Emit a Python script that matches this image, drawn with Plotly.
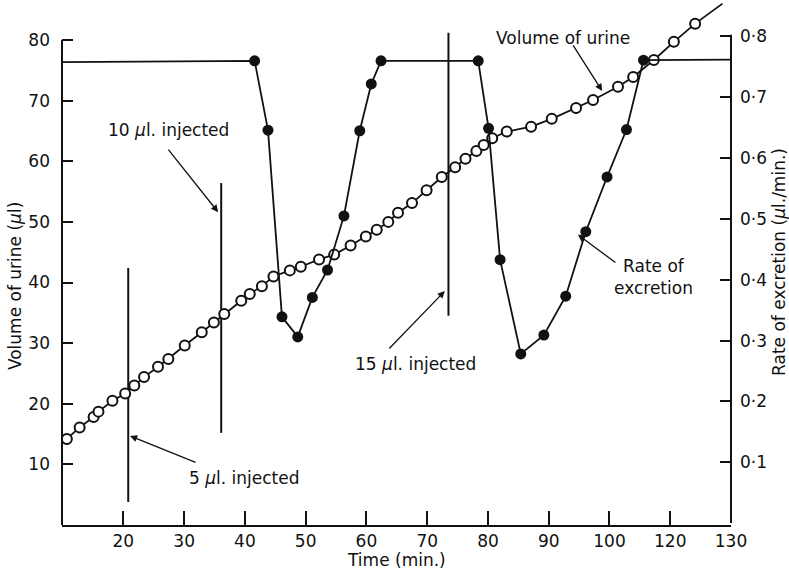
import plotly.graph_objects as go

# ---- data ----
vol_time = [10.7, 12.8, 15.1, 15.9, 18.2, 20.3, 21.8, 23.4, 25.7, 27.4, 30.1, 32.9, 34.9, 36.6,
            39.4, 40.8, 42.8, 44.7, 47.4, 49.2, 52.2, 54.7, 57.4, 59.9, 61.7, 63.6, 65.2, 67.5,
            69.9, 72.4, 74.6, 76.3, 78.1, 79.3, 80.7, 83.1, 87.1, 90.5, 94.5, 97.3, 101.4,
            103.9, 107.3, 110.6, 114.1]
vol_ul = [14.2, 16.1, 17.8, 18.7, 20.5, 21.7, 23.0, 24.4, 26.1, 27.4, 29.6, 31.8, 33.4, 34.8,
          37.0, 38.1, 39.4, 41.0, 42.0, 42.6, 43.8, 44.6, 46.1, 47.6, 48.7, 50.0, 51.5, 53.1,
          55.2, 57.4, 59.0, 60.4, 61.7, 62.7, 63.8, 64.9, 65.7, 67.0, 68.8, 70.1, 72.3,
          73.9, 76.7, 79.7, 82.7]
vol_line_end_time = [118.6]
vol_line_end_ul = [86.0]

rate_time = [41.6, 43.8, 46.1, 48.7, 51.1, 53.6, 56.3, 58.9, 60.8, 62.4, 78.4, 80.1, 82.0,
             85.4, 89.2, 92.8, 96.1, 99.6, 102.8, 105.6]
rate_val = [0.76, 0.646, 0.339, 0.306, 0.371, 0.416, 0.505, 0.645, 0.722, 0.76, 0.76, 0.649,
            0.433, 0.278, 0.309, 0.373, 0.479, 0.569, 0.647, 0.761]
rate_start_time, rate_start_val = 9.9, 0.758
rate_end_time, rate_end_val = 120.0, 0.762

inj_time = [20.8, 36.1, 73.5]
inj_bottom = [3.8, 15.2, 34.5]
inj_top = [42.4, 56.4, 81.2]

x_tickvals = [20, 30, 40, 50, 60, 70, 80, 90, 100, 110, 120]
x_ticktext = ["20", "30", "40", "50", "60", "70", "80", "90", "100", "120", "130"]
y_tickvals = [10, 20, 30, 40, 50, 60, 70, 80]
y2_tickvals = [0.1, 0.2, 0.3, 0.4, 0.5, 0.6, 0.7, 0.8]
y2_ticktext = ["0·1", "0·2", "0·3", "0·4", "0·5", "0·6", "0·7", "0·8"]

FONT = "DejaVu Sans"
INK = "#111111"

fig = go.Figure()

# injection marker lines
for t, b, tp in zip(inj_time, inj_bottom, inj_top):
    fig.add_trace(go.Scatter(x=[t, t], y=[b, tp], mode="lines",
                             line=dict(color=INK, width=2), hoverinfo="skip"))

# rate of excretion (y2)
fig.add_trace(go.Scatter(x=[rate_start_time] + rate_time + [rate_end_time],
                         y=[rate_start_val] + rate_val + [rate_end_val],
                         yaxis="y2", mode="lines", line=dict(color=INK, width=1.8)))
fig.add_trace(go.Scatter(x=rate_time, y=rate_val, yaxis="y2", mode="markers",
                         marker=dict(symbol="circle", size=11, color=INK,
                                     line=dict(color=INK, width=0))))

# volume of urine (y)
fig.add_trace(go.Scatter(x=vol_time + vol_line_end_time, y=vol_ul + vol_line_end_ul,
                         mode="lines", line=dict(color=INK, width=1.8)))
fig.add_trace(go.Scatter(x=vol_time, y=vol_ul, mode="markers",
                         marker=dict(symbol="circle", size=10, color="white",
                                     line=dict(color=INK, width=2))))

# axis lines
fig.add_shape(type="line", xref="paper", x0=0, x1=0, yref="y", y0=0, y1=80,
              line=dict(color=INK, width=2))
fig.add_shape(type="line", xref="paper", x0=1, x1=1, yref="y2", y0=0, y1=0.803,
              line=dict(color=INK, width=2))

ann = []
# text labels
txt = dict(showarrow=False, font=dict(family=FONT, size=17, color=INK), xref="x", yref="y",
           xanchor="center", yanchor="middle")
ann.append(dict(text="10 <i>μ</i>l. injected", x=27.4, y=65.2, **txt))
ann.append(dict(text="5 <i>μ</i>l. injected", x=39.9, y=7.8, **txt))
ann.append(dict(text="15 <i>μ</i>l. injected", x=68.1, y=26.6, **txt))
ann.append(dict(text="Volume of urine", x=92.3, y=80.4, **txt))
ann.append(dict(text="Rate of<br>excretion", x=107.3, y=40.9, **txt))

# arrows
arr = dict(text="", showarrow=True, arrowhead=2, arrowsize=1.1, arrowwidth=1.3,
           arrowcolor=INK, xref="x", yref="y")
ann.append(dict(x=35.6, y=51.6, ax=-51, ay=-64, **arr))
ann.append(dict(x=21.1, y=14.7, ax=67, ay=27, **arr))
ann.append(dict(x=72.9, y=38.6, ax=-57, ay=59, **arr))
ann.append(dict(x=98.8, y=71.6, ax=-30, ay=-47, **arr))
ann.append(dict(x=94.8, y=47.9, ax=39, ay=29, **arr))

# axis titles
ttl = dict(showarrow=False, font=dict(family=FONT, size=17, color=INK),
           xref="paper", yref="paper", xanchor="center", yanchor="middle")
ann.append(dict(text="Volume of urine (<i>μ</i>l)", x=-0.0703, y=0.455, textangle=-90, **ttl))
ann.append(dict(text="Rate of excretion (<i>μ</i>l./min.)", x=1.0717, y=0.501,
                textangle=-90, **ttl))
ann.append(dict(text="Time (min.)", x=0.5007, y=-0.0667, **ttl))

fig.update_layout(
    width=789, height=574,
    margin=dict(l=62, r=58, t=0, b=49),
    paper_bgcolor="white", plot_bgcolor="white",
    showlegend=False,
    font=dict(family=FONT, size=17, color=INK),
    annotations=ann,
    xaxis=dict(range=[9.9, 120], tickvals=x_tickvals, ticktext=x_ticktext,
               ticks="inside", ticklen=14, tickwidth=2, tickcolor=INK,
               showline=True, linewidth=2, linecolor=INK, showgrid=False, zeroline=False,
               ticklabelstandoff=0, tickfont=dict(family=FONT, size=17, color=INK)),
    yaxis=dict(range=[0, 86.6], tickvals=y_tickvals, ticks="inside", ticklen=11,
               tickwidth=2, tickcolor=INK, showline=False, showgrid=False, zeroline=False,
               ticklabelstandoff=11, tickfont=dict(family=FONT, size=17, color=INK)),
    yaxis2=dict(range=[-0.0033, 0.860], tickvals=y2_tickvals, ticktext=y2_ticktext,
                overlaying="y", side="right", ticks="inside", ticklen=11, tickwidth=2,
                tickcolor=INK, showline=False, showgrid=False, zeroline=False,
                ticklabelstandoff=8, tickfont=dict(family=FONT, size=17, color=INK)),
)

fig.write_html("out.html")
